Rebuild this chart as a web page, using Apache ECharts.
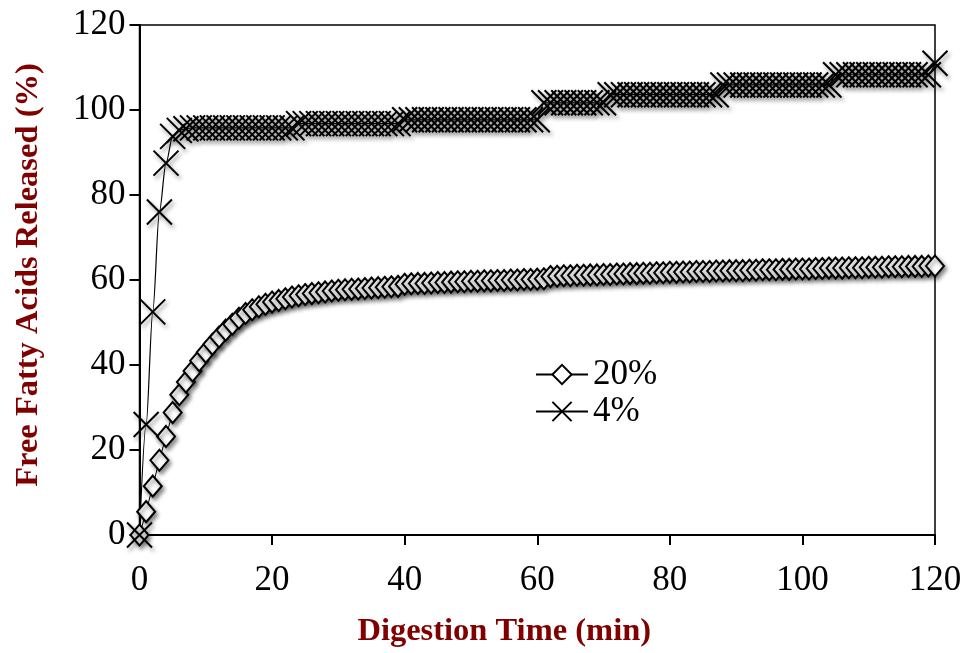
<!DOCTYPE html>
<html><head><meta charset="utf-8">
<script src="https://cdn.jsdelivr.net/npm/echarts@6/dist/echarts.min.js"></script>
<style>html,body{margin:0;padding:0;background:#fff}#c{width:966px;height:653px}</style>
</head><body><div id="c"></div>
<script>
const times = [0,1,2,3,4,5,6,7,8,9,10,11,12,13,14,15,16,17,18,19,
20,21,22,23,24,25,26,27,28,29,30,31,32,33,34,35,36,37,38,39,
40,41,42,43,44,45,46,47,48,49,50,51,52,53,54,55,56,57,58,59,
60,61,62,63,64,65,66,67,68,69,70,71,72,73,74,75,76,77,78,79,
80,81,82,83,84,85,86,87,88,89,90,91,92,93,94,95,96,97,98,99,
100,101,102,103,104,105,106,107,108,109,110,111,112,113,114,115,116,117,118,119,120];
const ffa20 = [0,5.5,11.5,17.6,23.2,28.8,33.0,36.0,38.6,41.0,43.0,44.9,46.6,48.2,49.6,51.0,52.1,53.0,53.7,54.3,
54.8,55.2,55.6,56.0,56.3,56.6,56.8,57.0,57.2,57.4,57.6,57.7,57.8,57.9,58.0,58.1,58.2,58.3,58.4,58.5,
59.0,59.1,59.2,59.2,59.3,59.4,59.4,59.5,59.6,59.6,59.7,59.7,59.8,59.8,59.9,59.9,60.0,60.0,60.1,60.1,
60.2,60.3,60.8,60.9,61.0,61.0,61.1,61.1,61.2,61.2,61.3,61.3,61.4,61.4,61.5,61.5,61.6,61.6,61.7,61.7,
61.8,61.8,61.9,61.9,62.0,62.0,62.0,62.1,62.1,62.2,62.2,62.2,62.3,62.3,62.4,62.4,62.4,62.5,62.5,62.6,
62.6,62.6,62.7,62.7,62.8,62.8,62.8,62.9,62.9,62.9,63.0,63.0,63.0,63.1,63.1,63.1,63.2,63.2,63.2,63.3,63.3];
const ffa4 = [0,26,52.5,76,87.5,93.8,95.2,95.6,
95.8,95.8,95.8,95.8,95.8,95.8,95.8,95.8,95.8,95.8,95.8,95.8,95.8,95.8,95.8,95.8,
96.8,96.8,96.8,96.8,96.8,96.8,96.8,96.8,96.8,96.8,96.8,96.8,96.8,96.8,96.8,96.8,
97.7,97.7,97.7,97.7,97.7,97.7,97.7,97.7,97.7,97.7,97.7,97.7,97.7,97.7,97.7,97.7,97.7,97.7,97.7,97.7,97.7,
101.7,101.7,101.7,101.7,101.7,101.7,101.7,101.7,101.7,101.7,
103.6,103.6,103.6,103.6,103.6,103.6,103.6,103.6,103.6,103.6,103.6,103.6,103.6,103.6,103.6,103.6,103.6,
105.9,105.9,105.9,105.9,105.9,105.9,105.9,105.9,105.9,105.9,105.9,105.9,105.9,105.9,105.9,105.9,105.9,
108.3,108.3,108.3,108.3,108.3,108.3,108.3,108.3,108.3,108.3,108.3,108.3,108.3,108.3,108.3,
111];
const seriesNames = ['20%', '4%'];
const xTitle = 'Digestion Time (min)';
const yTitle = 'Free Fatty Acids Released (%)';

const pair = (ys) => times.map((t, i) => [t, ys[i]]);
const serif = 'Liberation Serif, Times New Roman, serif';
const titleColor = '#800000';
const shadow = {shadowBlur: 4, shadowColor: 'rgba(0,0,0,0.45)', shadowOffsetX: 2, shadowOffsetY: 3};
const axisCommon = {
  type: 'value', min: 0, max: 120, interval: 20,
  axisLine: {show: true, lineStyle: {color: '#000', width: 2}},
  axisTick: {show: true, inside: false, length: 10, lineStyle: {color: '#000', width: 2}},
  splitLine: {show: false},
  axisLabel: {color: '#000', fontFamily: serif, fontSize: 35},
  nameTextStyle: {color: titleColor, fontFamily: serif, fontSize: 32.5, fontWeight: 'bold'},
  nameLocation: 'middle'
};
const chart = echarts.init(document.getElementById('c'));
chart.setOption({
  animation: false,
  backgroundColor: '#fff',
  grid: {left: 139.5, right: 31, top: 25, bottom: 117, show: true, borderColor: '#000', borderWidth: 1.5, backgroundColor: 'transparent'},
  xAxis: Object.assign({}, axisCommon, {
    name: xTitle, nameGap: 80,
    axisLabel: Object.assign({}, axisCommon.axisLabel, {margin: 28}),
    nameTextStyle: Object.assign({}, axisCommon.nameTextStyle, {padding: [0, 66, 0, 0]})
  }),
  yAxis: Object.assign({}, axisCommon, {
    name: yTitle, nameGap: 94,
    axisLabel: Object.assign({}, axisCommon.axisLabel, {margin: 14}),
    nameTextStyle: Object.assign({}, axisCommon.nameTextStyle, {padding: [0, 0, 0, 10]})
  }),
  legend: {
    data: seriesNames, orient: 'vertical', left: 535, top: 356, padding: 0,
    itemWidth: 52, itemHeight: 24, itemGap: 0,
    textStyle: {fontFamily: serif, fontSize: 35, color: '#000', lineHeight: 37},
    itemStyle: {shadowBlur: 0, shadowColor: 'transparent', shadowOffsetX: 0, shadowOffsetY: 0}
  },
  series: [
    {
      name: seriesNames[0], type: 'line', data: pair(ffa20), clip: false,
      symbol: 'diamond', symbolSize: [18, 21], showAllSymbol: true,
      lineStyle: {color: '#000', width: 1},
      itemStyle: Object.assign({color: '#fff', borderColor: '#000', borderWidth: 2}, shadow),
      emphasis: {disabled: true}
    },
    {
      name: seriesNames[1], type: 'line', data: pair(ffa4), clip: false,
      symbol: 'path://M0,0L20,20M20,0L0,20', symbolSize: 25, showAllSymbol: true,
      smooth: 0.3, smoothMonotone: 'x',
      lineStyle: {color: '#000', width: 1.2},
      itemStyle: Object.assign({color: '#000', borderColor: '#000', borderWidth: 2}, shadow),
      emphasis: {disabled: true}
    }
  ]
});
</script></body></html>
